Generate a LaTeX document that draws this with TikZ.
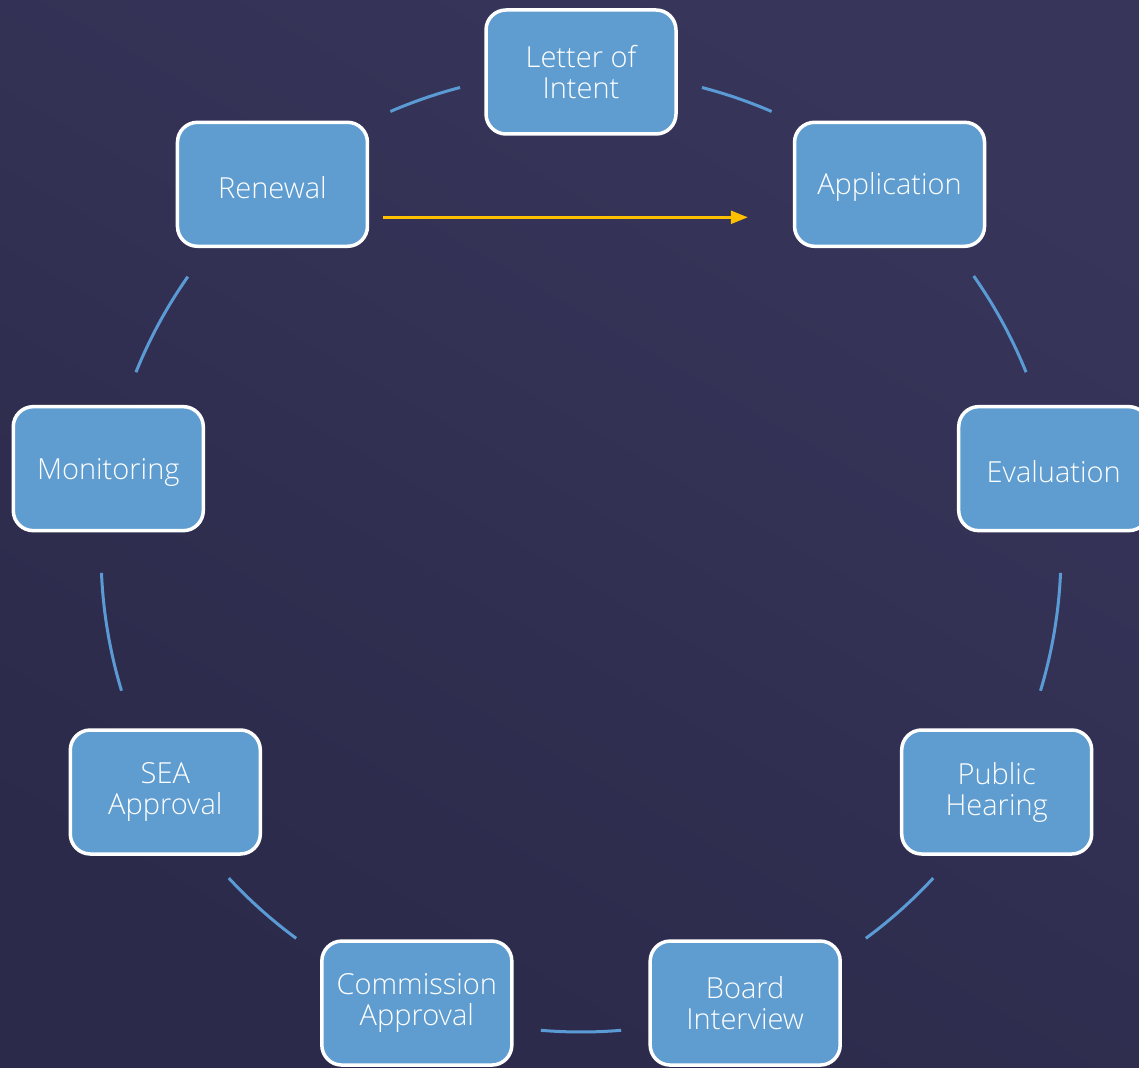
\documentclass[tikz,border=0pt]{standalone}
\usepackage{fontspec}
\setmainfont{Open Sans}[UprightFont=* Light]
\usetikzlibrary{arrows.meta,calc}
\definecolor{bgleft}{HTML}{37355A}
\definecolor{bgright}{HTML}{2C2A4A}
\definecolor{boxfill}{HTML}{5F9DD0}
\definecolor{arcblue}{HTML}{5B9BD5}
\definecolor{goldarrow}{HTML}{FFC000}
\tikzset{
  stepbox/.style={rectangle, rounded corners=20pt, draw=white, line width=3.5pt,
    fill=boxfill, minimum width=190pt, minimum height=124pt, align=center,
    text=white, font=\fontsize{29}{31}\selectfont, inner sep=2pt,
    execute at begin node={\rule{0pt}{28pt}}},
  cyc/.style={draw=arcblue, line width=3pt},
  goldline/.style={draw=goldarrow, line width=2.5pt, -{Triangle[length=17pt,width=13pt]}}
}
\begin{document}
\begin{tikzpicture}[x=1pt,y=1pt]
\useasboundingbox (0,0) rectangle (1139,-1067);
\shade[left color=bgleft, right color=bgright, shading angle=-30] (0,0) rectangle (1139,-1067);
\coordinate (O) at (581,-552);
\def\R{480}
\node[stepbox] (letter) at ($(O)+(90:\R)$) {Letter of\\Intent};
\node[stepbox] (app) at ($(O)+(50:\R)$) {Application};
\node[stepbox] (eval) at ($(O)+(10:\R)$) {Evaluation};
\node[stepbox] (hear) at ($(O)+(-30:\R)$) {Public\\Hearing};
\node[stepbox] (board) at ($(O)+(-70:\R)$) {Board\\Interview};
\node[stepbox] (comm) at ($(O)+(-110:\R)$) {Commission\\Approval};
\node[stepbox] (sea) at ($(O)+(-150:\R)$) {SEA\\Approval};
\node[stepbox] (mon) at ($(O)+(170:\R)$) {Monitoring};
\node[stepbox] (ren) at ($(O)+(130:\R)$) {Renewal};
% cycle arcs
\foreach \a/\b in {75.4/66.6, 35.1/22, -2.5/-16.8, -42.8/-53.6, -85.2/-94.8,
                   -126.4/-137.2, -163.2/-177.5, 158/145, 113.4/104.6}{
  \draw[cyc] ($(O)+(\a:\R)$) arc[start angle=\a, end angle=\b, radius=\R];
}
\draw[goldline] ([shift={(14,-33)}]ren.east) -- ([shift={(-45,-33)}]app.west);
\end{tikzpicture}
\end{document}
